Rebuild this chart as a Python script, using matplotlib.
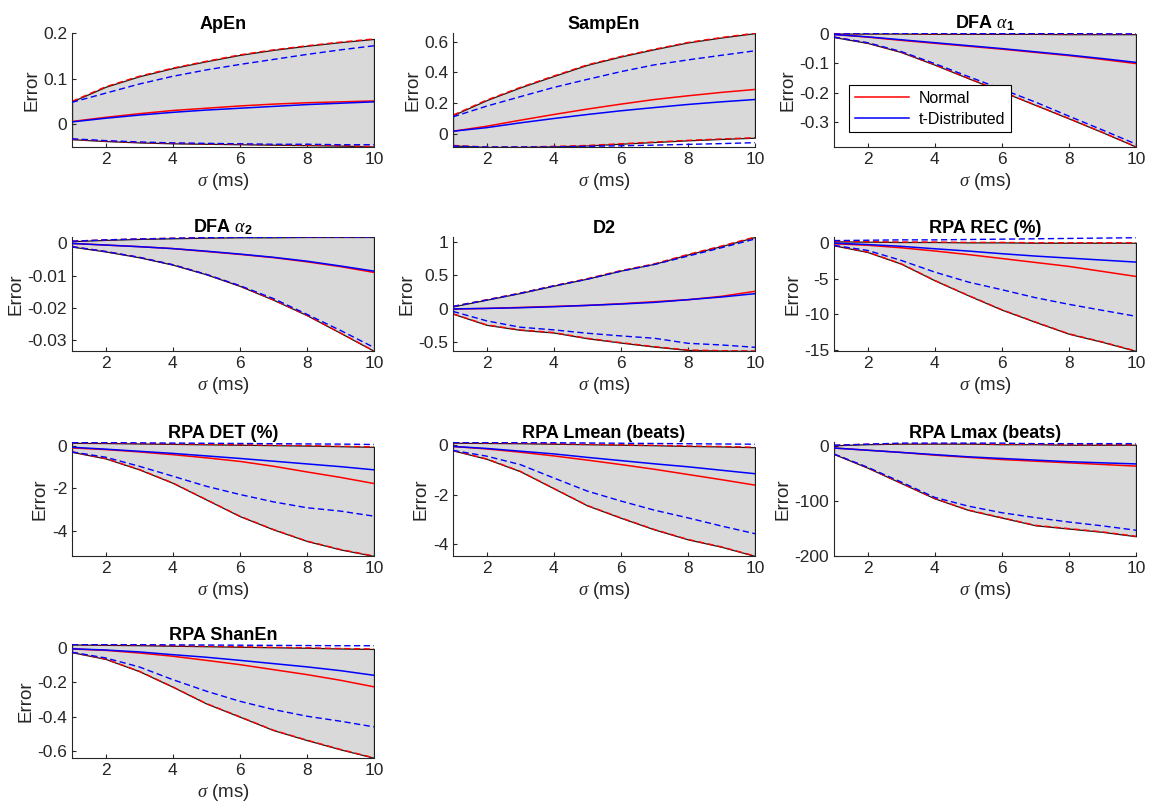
import matplotlib
matplotlib.use("Agg")
import matplotlib.pyplot as plt
from matplotlib.ticker import FuncFormatter
from matplotlib.lines import Line2D

plt.rcParams['font.family'] = ['Liberation Sans', 'DejaVu Sans']
plt.rcParams['axes.unicode_minus'] = False
plt.rcParams['mathtext.fontset'] = 'custom'
plt.rcParams['mathtext.rm'] = 'Liberation Sans'
plt.rcParams['mathtext.it'] = 'Liberation Serif:italic'
plt.rcParams['mathtext.bf'] = 'Liberation Sans:bold'

sigma = [1, 2, 3, 4, 5, 6, 7, 8, 9, 10]

titles = ['ApEn', 'SampEn', r'DFA $\alpha_\mathbf{1}$', r'DFA $\alpha_\mathbf{2}$', 'D2',
          'RPA REC (%)', 'RPA DET (%)', 'RPA Lmean (beats)', 'RPA Lmax (beats)', 'RPA ShanEn']

# ApEn
apen_n_hi = [0.050, 0.082, 0.105, 0.123, 0.138, 0.152, 0.163, 0.172, 0.180, 0.187]
apen_n_mean = [0.006, 0.015, 0.023, 0.030, 0.035, 0.040, 0.044, 0.047, 0.049, 0.051]
apen_n_lo = [-0.033, -0.037, -0.040, -0.042, -0.043, -0.044, -0.045, -0.046, -0.047, -0.049]
apen_t_hi = [0.048, 0.068, 0.088, 0.105, 0.119, 0.131, 0.142, 0.153, 0.163, 0.172]
apen_t_mean = [0.005, 0.013, 0.020, 0.026, 0.031, 0.035, 0.039, 0.043, 0.046, 0.049]
apen_t_lo = [-0.032, -0.036, -0.039, -0.041, -0.042, -0.043, -0.044, -0.044, -0.045, -0.045]

# SampEn
sampen_n_hi = [0.124, 0.221, 0.303, 0.377, 0.449, 0.503, 0.550, 0.594, 0.626, 0.654]
sampen_n_mean = [0.020, 0.052, 0.091, 0.128, 0.163, 0.195, 0.225, 0.249, 0.271, 0.290]
sampen_n_lo = [-0.072, -0.082, -0.082, -0.078, -0.072, -0.061, -0.050, -0.039, -0.030, -0.022]
sampen_t_hi = [0.113, 0.182, 0.243, 0.303, 0.355, 0.405, 0.449, 0.481, 0.511, 0.540]
sampen_t_mean = [0.020, 0.043, 0.074, 0.102, 0.128, 0.152, 0.173, 0.193, 0.210, 0.225]
sampen_t_lo = [-0.076, -0.082, -0.082, -0.082, -0.078, -0.074, -0.070, -0.065, -0.060, -0.054]

# DFA alpha1
dfa1_n_hi = [0.001, 0.001, 0.001, 0.000, 0.000, 0.000, 0.000, -0.001, -0.001, -0.001]
dfa1_n_mean = [-0.002, -0.011, -0.022, -0.032, -0.042, -0.052, -0.063, -0.074, -0.087, -0.101]
dfa1_n_lo = [-0.011, -0.031, -0.062, -0.105, -0.151, -0.196, -0.242, -0.288, -0.335, -0.384]
dfa1_t_hi = [0.003, 0.002, 0.002, 0.002, 0.001, 0.001, 0.001, 0.001, 0.000, 0.000]
dfa1_t_mean = [-0.002, -0.010, -0.020, -0.030, -0.040, -0.050, -0.061, -0.072, -0.084, -0.097]
dfa1_t_lo = [-0.011, -0.030, -0.060, -0.101, -0.145, -0.188, -0.232, -0.280, -0.327, -0.375]

# DFA alpha2
dfa2_n_hi = [0.0007, 0.0011, 0.0014, 0.0016, 0.0018, 0.0019, 0.0019, 0.0020, 0.0020, 0.0020]
dfa2_n_mean = [0.0000, -0.0005, -0.0010, -0.0016, -0.0025, -0.0034, -0.0044, -0.0057, -0.0072, -0.0090]
dfa2_n_lo = [-0.0010, -0.0025, -0.0043, -0.0066, -0.0096, -0.0132, -0.0175, -0.0223, -0.0278, -0.0334]
dfa2_t_hi = [0.0007, 0.0011, 0.0014, 0.0016, 0.0018, 0.0019, 0.0019, 0.0020, 0.0020, 0.0020]
dfa2_t_mean = [0.0000, -0.0005, -0.0010, -0.0016, -0.0024, -0.0033, -0.0043, -0.0055, -0.0070, -0.0086]
dfa2_t_lo = [-0.0010, -0.0025, -0.0043, -0.0066, -0.0096, -0.0131, -0.0171, -0.0220, -0.0270, -0.0323]

# D2
d2_n_hi = [0.035, 0.135, 0.234, 0.344, 0.449, 0.569, 0.670, 0.810, 0.935, 1.070]
d2_n_mean = [-0.005, 0.005, 0.020, 0.035, 0.050, 0.075, 0.105, 0.135, 0.185, 0.260]
d2_n_lo = [-0.075, -0.240, -0.315, -0.355, -0.440, -0.505, -0.565, -0.615, -0.625, -0.630]
d2_t_hi = [0.035, 0.130, 0.230, 0.340, 0.440, 0.560, 0.660, 0.785, 0.910, 1.040]
d2_t_mean = [-0.002, 0.005, 0.015, 0.030, 0.050, 0.070, 0.095, 0.135, 0.175, 0.225]
d2_t_lo = [-0.040, -0.180, -0.275, -0.315, -0.365, -0.405, -0.440, -0.515, -0.540, -0.575]

# RPA REC
rec_n_hi = [0.20, 0.15, 0.10, 0.10, 0.05, 0.05, 0.00, 0.00, 0.00, 0.00]
rec_n_mean = [-0.14, -0.35, -0.70, -1.15, -1.65, -2.20, -2.75, -3.30, -4.00, -4.70]
rec_n_lo = [-0.37, -1.30, -2.93, -5.25, -7.34, -9.34, -11.05, -12.70, -13.84, -15.10]
rec_t_hi = [0.30, 0.35, 0.40, 0.40, 0.45, 0.50, 0.55, 0.60, 0.65, 0.70]
rec_t_mean = [-0.05, -0.25, -0.50, -0.84, -1.16, -1.53, -1.86, -2.14, -2.42, -2.70]
rec_t_lo = [-0.37, -1.07, -2.46, -4.09, -5.48, -6.55, -7.66, -8.59, -9.43, -10.26]

# RPA DET
det_n_hi = [0.16, 0.15, 0.13, 0.11, 0.09, 0.07, 0.05, 0.03, 0.00, -0.03]
det_n_mean = [-0.08, -0.16, -0.27, -0.40, -0.55, -0.72, -0.95, -1.22, -1.48, -1.77]
det_n_lo = [-0.27, -0.58, -1.10, -1.74, -2.53, -3.32, -3.95, -4.50, -4.90, -5.21]
det_t_hi = [0.17, 0.17, 0.16, 0.15, 0.14, 0.13, 0.12, 0.11, 0.10, 0.08]
det_t_mean = [-0.05, -0.14, -0.24, -0.34, -0.46, -0.58, -0.71, -0.84, -0.97, -1.12]
det_t_lo = [-0.27, -0.52, -0.95, -1.42, -1.90, -2.29, -2.64, -2.92, -3.08, -3.32]

# RPA Lmean
lmean_n_hi = [0.10, 0.09, 0.08, 0.06, 0.04, 0.02, 0.00, -0.03, -0.05, -0.08]
lmean_n_mean = [-0.05, -0.15, -0.28, -0.43, -0.60, -0.78, -0.97, -1.18, -1.39, -1.61]
lmean_n_lo = [-0.21, -0.55, -1.05, -1.74, -2.43, -2.93, -3.40, -3.80, -4.10, -4.47]
lmean_t_hi = [0.11, 0.11, 0.10, 0.10, 0.09, 0.08, 0.07, 0.06, 0.05, 0.04]
lmean_t_mean = [-0.05, -0.13, -0.24, -0.35, -0.49, -0.62, -0.75, -0.87, -1.01, -1.15]
lmean_t_lo = [-0.21, -0.44, -0.78, -1.32, -1.85, -2.25, -2.62, -2.93, -3.26, -3.57]

# RPA Lmax
lmax_n_hi = [2, 4, 5, 5, 5, 4, 4, 3, 3, 3]
lmax_n_mean = [-3, -7, -11, -16, -20, -24, -27, -30, -33, -36]
lmax_n_lo = [-14, -39, -67, -95, -116, -130, -144, -150, -156, -164]
lmax_t_hi = [2, 4, 6, 6, 6, 6, 5, 5, 5, 5]
lmax_t_mean = [-3, -7, -11, -15, -19, -22, -25, -28, -30, -32]
lmax_t_lo = [-14, -38, -65, -93, -109, -121, -130, -138, -145, -153]

# RPA ShanEn
shan_n_hi = [0.020, 0.018, 0.016, 0.013, 0.010, 0.007, 0.004, 0.001, -0.003, -0.006]
shan_n_mean = [-0.006, -0.014, -0.029, -0.048, -0.072, -0.097, -0.126, -0.155, -0.188, -0.226]
shan_n_lo = [-0.025, -0.064, -0.135, -0.226, -0.323, -0.400, -0.478, -0.536, -0.590, -0.639]
shan_t_hi = [0.020, 0.020, 0.019, 0.018, 0.017, 0.016, 0.015, 0.014, 0.013, 0.013]
shan_t_mean = [-0.005, -0.012, -0.023, -0.039, -0.054, -0.072, -0.091, -0.110, -0.132, -0.159]
shan_t_lo = [-0.025, -0.058, -0.110, -0.184, -0.251, -0.310, -0.358, -0.397, -0.426, -0.459]

panels = [
    (apen_n_hi, apen_n_mean, apen_n_lo, apen_t_hi, apen_t_mean, apen_t_lo),
    (sampen_n_hi, sampen_n_mean, sampen_n_lo, sampen_t_hi, sampen_t_mean, sampen_t_lo),
    (dfa1_n_hi, dfa1_n_mean, dfa1_n_lo, dfa1_t_hi, dfa1_t_mean, dfa1_t_lo),
    (dfa2_n_hi, dfa2_n_mean, dfa2_n_lo, dfa2_t_hi, dfa2_t_mean, dfa2_t_lo),
    (d2_n_hi, d2_n_mean, d2_n_lo, d2_t_hi, d2_t_mean, d2_t_lo),
    (rec_n_hi, rec_n_mean, rec_n_lo, rec_t_hi, rec_t_mean, rec_t_lo),
    (det_n_hi, det_n_mean, det_n_lo, det_t_hi, det_t_mean, det_t_lo),
    (lmean_n_hi, lmean_n_mean, lmean_n_lo, lmean_t_hi, lmean_t_mean, lmean_t_lo),
    (lmax_n_hi, lmax_n_mean, lmax_n_lo, lmax_t_hi, lmax_t_mean, lmax_t_lo),
    (shan_n_hi, shan_n_mean, shan_n_lo, shan_t_hi, shan_t_mean, shan_t_lo),
]

ylims = [(-0.05, 0.2), (-0.082, 0.655), (-0.385, 0.003), (-0.0334, 0.002), (-0.63, 1.07),
         (-15.1, 0.8), (-5.21, 0.2), (-4.47, 0.13), (-200, 8), (-0.64, 0.023)]
yticks = [[0, 0.1, 0.2], [0, 0.2, 0.4, 0.6], [-0.3, -0.2, -0.1, 0], [-0.03, -0.02, -0.01, 0],
          [-0.5, 0, 0.5, 1], [-15, -10, -5, 0], [-4, -2, 0], [-4, -2, 0], [-200, -100, 0],
          [-0.6, -0.4, -0.2, 0]]

W, H = 1158, 806
fig = plt.figure(figsize=(W / 100, H / 100), dpi=100)
col_left = [72, 453, 834]
row_top = [33, 237, 442, 644]
aw, ah = 302, 114

axcol = '#262626'
dash = (4.5, 2.5)
for i, (data, title, yl, yt) in enumerate(zip(panels, titles, ylims, yticks)):
    r, c = divmod(i, 3)
    ax = fig.add_axes([col_left[c] / W, 1 - (row_top[r] + ah) / H, aw / W, ah / H])
    n_hi, n_mean, n_lo, t_hi, t_mean, t_lo = data
    ax.fill_between(sigma, n_lo, n_hi, facecolor='#d9d9d9', edgecolor='#1a1a1a', linewidth=0.9, zorder=1)
    ax.plot(sigma, n_hi, color='red', lw=1.0, dashes=dash, zorder=2)
    ax.plot(sigma, n_lo, color='red', lw=1.0, dashes=dash, zorder=2)
    ax.plot(sigma, t_hi, color='blue', lw=1.0, dashes=dash, zorder=3)
    ax.plot(sigma, t_lo, color='blue', lw=1.0, dashes=dash, zorder=3)
    ax.plot(sigma, n_mean, color='red', lw=1.1, zorder=4)
    ax.plot(sigma, t_mean, color='blue', lw=1.1, zorder=5)
    ax.set_xlim(1, 10)
    ax.set_ylim(*yl)
    ax.set_xticks([2, 4, 6, 8, 10])
    ax.set_yticks(yt)
    ax.yaxis.set_major_formatter(FuncFormatter(lambda v, p: ('%g' % round(v, 6))))
    for s in ('top', 'right'):
        ax.spines[s].set_visible(False)
    for s in ('left', 'bottom'):
        ax.spines[s].set_color(axcol)
        ax.spines[s].set_linewidth(0.8)
    ax.tick_params(direction='in', length=3, width=0.8, colors=axcol, labelsize=12.5, labelcolor=axcol)
    ax.set_title(title, fontsize=13, fontweight='bold', pad=3)
    ax.set_xlabel(r'$\sigma$ (ms)', fontsize=13.5, color=axcol, labelpad=3)
    ax.set_ylabel('Error', fontsize=13.5, color=axcol, labelpad=2)
    if i == 2:
        handles = [Line2D([], [], color='red', lw=1.1), Line2D([], [], color='blue', lw=1.1)]
        leg = ax.legend(handles, ['Normal', 't-Distributed'], loc='lower left',
                        bbox_to_anchor=(0.05, 0.13), borderaxespad=0, fontsize=11.5, frameon=True,
                        fancybox=False, edgecolor='black', framealpha=1, handlelength=3.4,
                        borderpad=0.35, labelspacing=0.35, handletextpad=0.6)
        leg.get_frame().set_linewidth(0.8)

fig.savefig('out.png', dpi=100)
